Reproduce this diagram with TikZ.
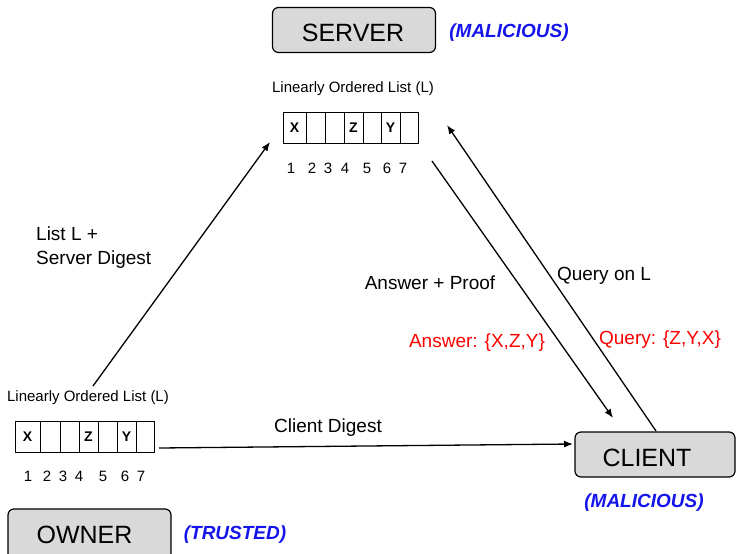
\documentclass[tikz,border=0pt]{standalone}
\usepackage{fontspec}
\setmainfont{Liberation Sans}
\usetikzlibrary{arrows.meta}
\definecolor{boxgray}{RGB}{217,217,217}
\definecolor{labblue}{RGB}{20,20,235}
\definecolor{labred}{RGB}{255,0,0}
\tikzset{
  partybox/.style={draw=black, line width=1.2pt, fill=boxgray, rounded corners=6pt, inner sep=0pt},
  partytext/.style={font=\fontsize{25}{30}\selectfont, inner sep=0pt},
  role/.style={font=\fontsize{19}{22}\selectfont\bfseries\itshape, text=labblue, inner sep=0pt},
  lab/.style={font=\fontsize{19}{24}\selectfont, inner sep=0pt},
  redlab/.style={lab, text=labred},
  small/.style={font=\fontsize{15}{17}\selectfont, inner sep=0pt},
  num/.style={small, anchor=base},
  cell/.style={draw, line width=1pt, minimum height=31pt, inner sep=0pt,
    font=\fontsize{14}{16}\selectfont\bfseries},
  conn/.style={line width=1.3pt, -{Latex[length=9pt,width=7pt]}},
}
\begin{document}
\begin{tikzpicture}[x=1pt,y=-1pt]
\useasboundingbox (0,0) rectangle (736,554);

% parties
\node[partybox, minimum width=163pt, minimum height=45pt] (server) at (354,30) {};
\node[partytext] (servert) at (353,32.8) {SERVER};
\node[role] (serverrole) at (509,33) {(MALICIOUS)};
\node[partybox, minimum width=163pt, minimum height=56pt] (owner) at (89.5,537) {};
\node[partytext] (ownert) at (84.5,534.7) {OWNER};
\node[role] (ownerrole) at (235,535) {(TRUSTED)};
\node[partybox, minimum width=160pt, minimum height=45pt] (client) at (655,454.5) {};
\node[partytext] (clientt) at (647,457.5) {CLIENT};
\node[role] (clientrole) at (644,503) {(MALICIOUS)};

% top list
\node[small] (toplabel) at (353,89) {Linearly Ordered List (L)};
\foreach \a/\b/\t [count=\i] in {283/306/X, 306/325/{}, 325/344/{}, 344/363/Z, 363/381/{}, 381/400/Y, 400/418/{}}
  \node[cell, minimum width={(\b-\a)*1pt}] (top\i) at ({(\a+\b)/2},127.5) {\t};
\foreach \x [count=\i] in {291,312,328,345,367,387,403}
  \node[num] (topn\i) at (\x,173) {\i};

% bottom list
\node[small] (botlabel) at (88,398) {Linearly Ordered List (L)};
\foreach \a/\b/\t [count=\i] in {15/40/X, 40/60/{}, 60/79/{}, 79/98/Z, 98/117/{}, 117/136/Y, 136/154/{}}
  \node[cell, minimum width={(\b-\a)*1pt}] (bot\i) at ({(\a+\b)/2},437) {\t};
\foreach \x [count=\i] in {28,47,63,79,103,125,141}
  \node[num] (botn\i) at (\x,481.5) {\i};

% connector end points
\coordinate (upS) at (93,386);
\coordinate (upE) at (270,142);
\coordinate (cdS) at (159,448);
\coordinate (cdE) at (573,444);
\coordinate (ansS) at (432,161);
\coordinate (ansE) at (613,418);
\coordinate (qS) at (656,431);
\coordinate (qE) at (447,125);

\draw[conn] (upS) -- (upE);
\draw[conn] (cdS) -- (cdE);
\draw[conn] (ansS) -- (ansE);
\draw[conn] (qS) -- (qE);

% labels
\node[lab, align=left, anchor=west] (listlab) at (36,248) {List L +\\Server Digest};
\node[lab] (cdlab) at (328,428) {Client Digest};
\node[lab] (aplab) at (430,283) {Answer + Proof};
\node[redlab] (anslab) at (477,343) {Answer: \{X,Z,Y\}};
\node[lab] (qlab) at (604,276) {Query on L};
\node[redlab] (qrlab) at (660,339.5) {Query: \{Z,Y,X\}};
\end{tikzpicture}
\end{document}
